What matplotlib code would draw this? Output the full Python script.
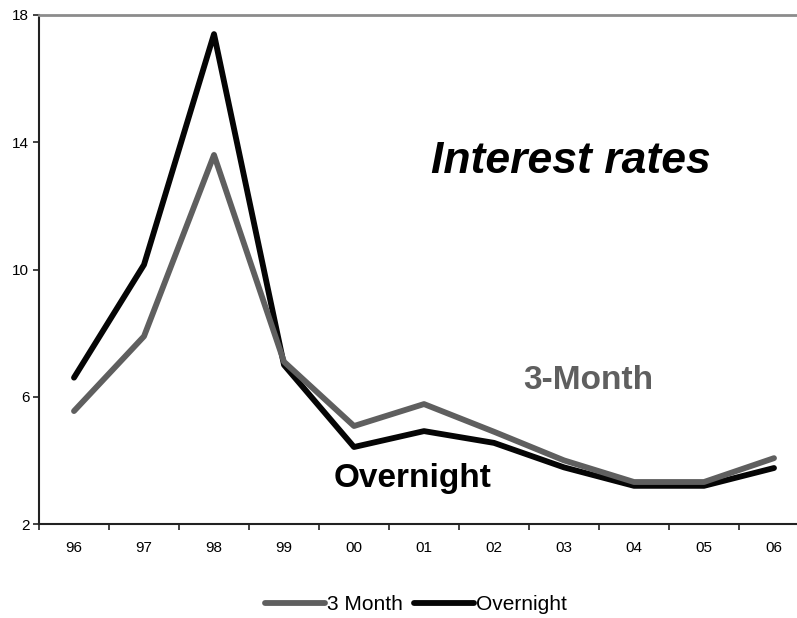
import matplotlib
matplotlib.use("Agg")
import matplotlib.pyplot as plt
import numpy as np

plt.rcParams['font.family'] = ['Liberation Sans', 'DejaVu Sans']

years = ['96', '97', '98', '99', '00', '01', '02', '03', '04', '05', '06']
three_month = [5.55, 7.9, 13.6, 7.1, 5.08, 5.77, 4.9, 4.0, 3.32, 3.32, 4.07]
overnight = [6.6, 10.15, 17.4, 7.0, 4.42, 4.92, 4.55, 3.78, 3.2, 3.2, 3.76]
y_ticks = [2, 6, 10, 14, 18]

gray = '#5f5f5f'
black = '#050505'

fig = plt.figure(figsize=(7.97, 6.18), dpi=100)
# plot area runs slightly past the right edge of the figure
ax = fig.add_axes([39 / 797, 94 / 618, 770 / 797, 509 / 618])

x = np.arange(len(years))
ax.plot(x, three_month, color=gray, lw=4.2, solid_capstyle='round',
        solid_joinstyle='round', label='3 Month', zorder=3)
ax.plot(x, overnight, color=black, lw=4.2, solid_capstyle='round',
        solid_joinstyle='round', label='Overnight', zorder=2)

ax.set_xlim(-0.5, len(years) - 0.5)
ax.set_ylim(2, 18)
ax.set_yticks(y_ticks)
ax.set_yticklabels([str(v) for v in y_ticks], fontsize=11)

# category labels centred, tick marks on the boundaries
ax.set_xticks(x)
ax.set_xticklabels(years, fontsize=11)
ax.set_xticks(np.arange(len(years)) - 0.5, minor=True)
ax.tick_params(axis='x', which='major', length=0, pad=12)
ax.tick_params(axis='x', which='minor', length=4, width=1.2, color='#222222')
ax.tick_params(axis='y', length=4, width=1.2, color='#222222', pad=3)

ax.spines['left'].set_color('#222222')
ax.spines['left'].set_linewidth(1.5)
ax.spines['bottom'].set_color('#222222')
ax.spines['bottom'].set_linewidth(1.5)
ax.spines['top'].set_color('#8c8c8c')
ax.spines['top'].set_linewidth(2)
ax.spines['right'].set_visible(False)

ax.text(7.1, 13.4, 'Interest rates', fontsize=32, fontweight='bold',
        fontstyle='italic', ha='center', va='center', color='black')
ax.text(7.34, 6.52, '3-Month', fontsize=24, fontweight='bold',
        ha='center', va='center', color=gray)
ax.text(4.84, 3.44, 'Overnight', fontsize=24, fontweight='bold',
        ha='center', va='center', color='black')

fig.legend(loc='center', bbox_to_anchor=(416 / 797, 1 - 605 / 618),
           ncol=2, frameon=False, fontsize=15, handlelength=2.9,
           handletextpad=0.1, columnspacing=0.5)

fig.savefig('out.png', dpi=100)
